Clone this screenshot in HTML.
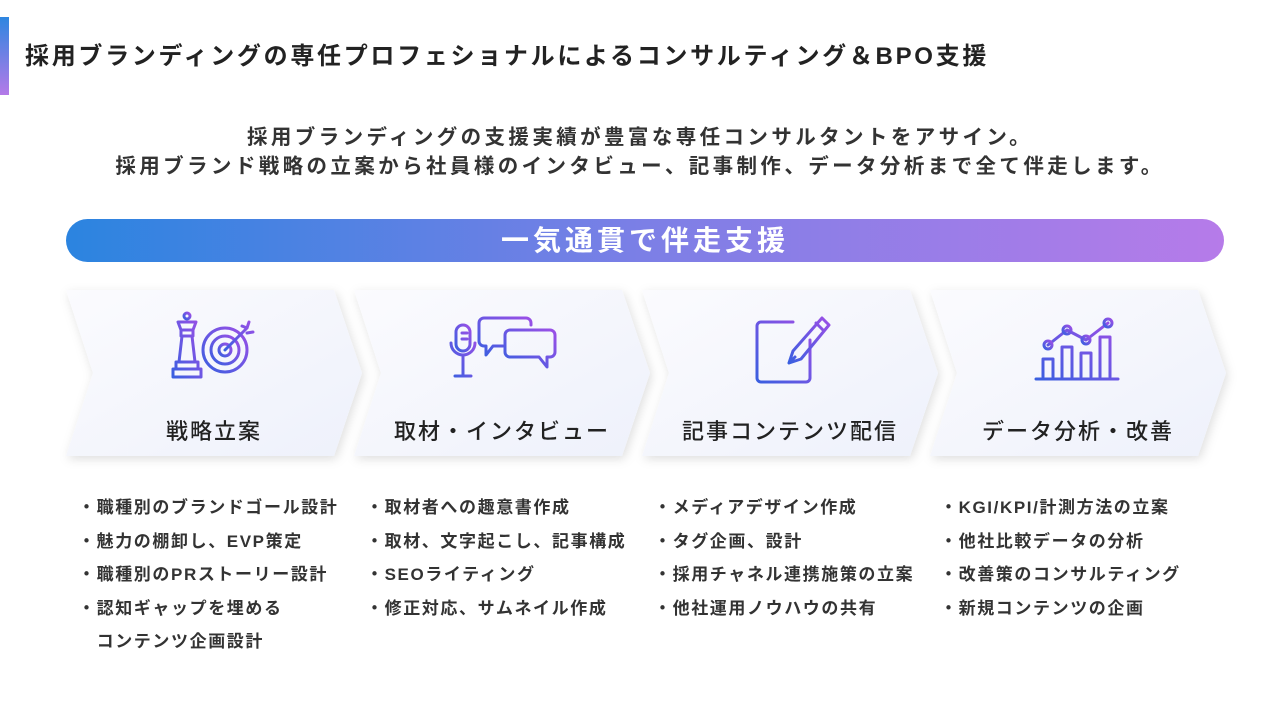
<!DOCTYPE html>
<html><head><meta charset="utf-8"><style>
body{margin:0;width:1280px;height:720px;background:#fff;position:relative;overflow:hidden;font-family:"Liberation Sans","Noto Sans CJK JP",sans-serif;color:#222}
.bar{position:absolute;left:0;top:17px;width:9px;height:78px;background:linear-gradient(#2e86e0,#b47ae8)}
.title{position:absolute;left:25px;top:36px;font-size:24px;font-weight:bold;letter-spacing:2.7px;white-space:nowrap}
.sub{position:absolute;left:0;width:1280px;text-align:center;font-size:20.5px;font-weight:bold;color:#333;line-height:29px;top:123px;letter-spacing:3.4px}
.band{position:absolute;left:66px;top:219px;width:1158px;height:43px;border-radius:22px;background:linear-gradient(90deg,#2b84e0,#7c7fe6 50%,#b67be9);color:#fff;font-size:28px;font-weight:bold;text-align:center;line-height:43px;letter-spacing:4px}
.lbl{position:absolute;top:414px;width:296px;text-align:center;font-size:22px;font-weight:500;color:#222;letter-spacing:2px}
.list{position:absolute;top:491px;font-size:17px;font-weight:bold;color:#333;line-height:33.6px;white-space:nowrap;letter-spacing:1.6px}
</style></head><body>
<div class="bar"></div>
<div class="title">採用ブランディングの専任プロフェショナルによるコンサルティング＆BPO支援</div>
<div class="sub">採用ブランディングの支援実績が豊富な専任コンサルタントをアサイン。<br>採用ブランド戦略の立案から社員様のインタビュー、記事制作、データ分析まで全て伴走します。</div>
<div class="band">一気通貫で伴走支援</div>
<svg style="position:absolute;left:0;top:0" width="1280" height="720">
<defs>
<linearGradient id="cf" x1="0" y1="0" x2="1" y2="1"><stop offset="0" stop-color="#fbfbfe"/><stop offset="1" stop-color="#eef1fb"/></linearGradient>
<linearGradient id="ic" x1="0" y1="1" x2="1" y2="0"><stop offset="0" stop-color="#3a5fe0"/><stop offset="1" stop-color="#9b4fe6"/></linearGradient>
<filter id="sh" x="-10%" y="-10%" width="120%" height="130%"><feDropShadow dx="2" dy="3" stdDeviation="5" flood-color="#000" flood-opacity="0.13"/></filter>
</defs>
<g filter="url(#sh)" fill="url(#cf)">
<polygon points="66,290 334,290 362,373 334,456 66,456 93,373"/>
<polygon points="354,290 622,290 650,373 622,456 354,456 381,373"/>
<polygon points="642,290 910,290 938,373 910,456 642,456 669,373"/>
<polygon points="930,290 1198,290 1226,373 1198,456 930,456 957,373"/>
</g>
<g fill="none" stroke="url(#ic)" stroke-width="3" stroke-linecap="round" stroke-linejoin="round">
<circle cx="187" cy="316" r="3"/><path d="M178 322h18l-3 8h-12z M181 330v6h12v-6 M182 336l-3 26h16l-3-26 M173 369h28v8h-28z M176 362h22v7h-22z"/>
<circle cx="225" cy="350" r="22"/><circle cx="225" cy="350" r="14"/><circle cx="225" cy="350" r="6"/><path d="M225 350l22-22 M242 326l5 2 2-6 M247 333l6-1"/>
<rect x="456" y="325" width="14" height="26" rx="7"/><path d="M451 343a12 12 0 0 0 24 0 M463 355v21 M455 376h16 M462 333h5 M462 339h5"/>
<path d="M484 318h42a5 5 0 0 1 5 5v2 M484 318a5 5 0 0 0-5 5v18a5 5 0 0 0 5 5h2v9l7-9h10"/>
<path d="M510 330h40a5 5 0 0 1 5 5v17a5 5 0 0 1-5 5h-3v10l-8-10h-29a5 5 0 0 1-5-5v-17a5 5 0 0 1 5-5z"/>
<path d="M810 340v38a4 4 0 0 1-4 4h-45a4 4 0 0 1-4-4v-52a4 4 0 0 1 4-4h32"/>
<path d="M822 318l7 7-28 34-12 4 4-12z M816 323l8 8 M789 363l6-6"/>
<path d="M1036 379h82 M1043 377v-18h10v18 M1062 377v-30h10v30 M1081 377v-24h10v24 M1100 377v-40h10v40 M1048 345l19-15 19 10 22-17"/>
<circle cx="1048" cy="345" r="4"/><circle cx="1067" cy="330" r="4"/><circle cx="1086" cy="340" r="4"/><circle cx="1108" cy="323" r="4"/>
</g>
</svg>
<div class="lbl" style="left:66px">戦略立案</div>
<div class="lbl" style="left:354px">取材・インタビュー</div>
<div class="lbl" style="left:642px">記事コンテンツ配信</div>
<div class="lbl" style="left:930px">データ分析・改善</div>
<div class="list" style="left:78px">・職種別のブランドゴール設計<br>・魅力の棚卸し、EVP策定<br>・職種別のPRストーリー設計<br>・認知ギャップを埋める<br>　コンテンツ企画設計</div>
<div class="list" style="left:366px">・取材者への趣意書作成<br>・取材、文字起こし、記事構成<br>・SEOライティング<br>・修正対応、サムネイル作成</div>
<div class="list" style="left:654px">・メディアデザイン作成<br>・タグ企画、設計<br>・採用チャネル連携施策の立案<br>・他社運用ノウハウの共有</div>
<div class="list" style="left:940px">・KGI/KPI/計測方法の立案<br>・他社比較データの分析<br>・改善策のコンサルティング<br>・新規コンテンツの企画</div>
</body></html>
